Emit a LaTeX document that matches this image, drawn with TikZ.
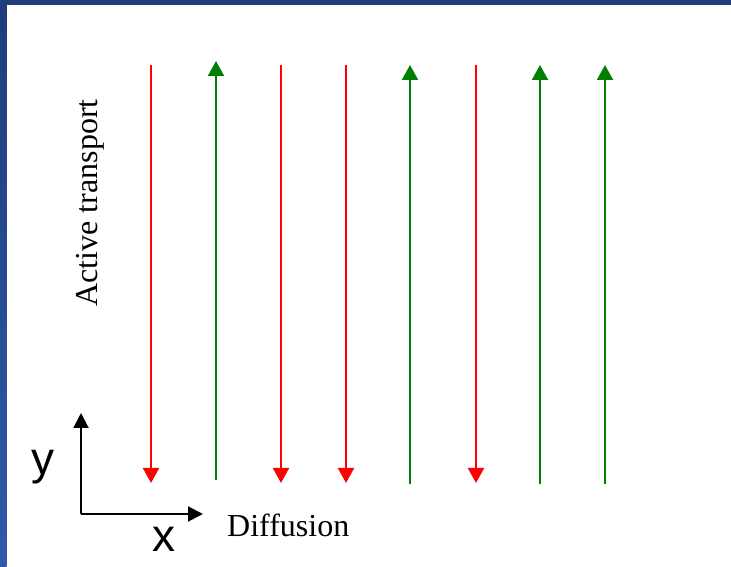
\documentclass[tikz,border=0pt]{standalone}
\usepackage{fontspec}
\setmainfont{Liberation Serif}
\newfontfamily\arialfont{Liberation Sans}
\usetikzlibrary{arrows.meta}
\definecolor{frameblue}{HTML}{1F3D7A}
\definecolor{framelight}{HTML}{2E5AAA}
\definecolor{flowred}{HTML}{FF0000}
\definecolor{flowgreen}{HTML}{008000}
\tikzset{
  flow/.style={line width=2pt,-{Triangle[width=16pt,length=15pt]}},
  redflow/.style={flow,draw=flowred,fill=flowred},
  greenflow/.style={flow,draw=flowgreen,fill=flowgreen},
  axis/.style={line width=2pt,-{Triangle[width=15pt,length=15pt]}},
  lbl/.style={inner sep=0pt}
}
\begin{document}
\begin{tikzpicture}[x=1pt,y=1pt]
\useasboundingbox (0,0) rectangle (731,567);
\fill[white] (0,0) rectangle (731,567);
\fill[frameblue] (0,562) rectangle (731,567);
\shade[top color=frameblue,bottom color=framelight] (0,0) rectangle (6.5,562);
% red (down) arrows
\foreach \n/\x in {r1/151,r2/281,r3/346,r4/476}{
  \coordinate (\n s) at (\x,502);
  \coordinate (\n e) at (\x,84);
  \draw[redflow] (\n s) -- (\n e);
}
% green (up) arrows
\coordinate (g1s) at (216,87); \coordinate (g1e) at (216,506);
\draw[greenflow] (g1s) -- (g1e);
\foreach \n/\x in {g2/410,g3/540,g4/605}{
  \coordinate (\n s) at (\x,83);
  \coordinate (\n e) at (\x,502);
  \draw[greenflow] (\n s) -- (\n e);
}
% axes
\coordinate (o) at (81,53);
\coordinate (yt) at (81,154);
\coordinate (xt) at (203,53);
\draw[axis] (o) -- (yt);
\draw[axis] (o) -- (xt);
\node[lbl,font=\arialfont\fontsize{46}{50}\selectfont] (ylab) at (43,100) {y};
\node[lbl,font=\arialfont\fontsize{46}{50}\selectfont] (xlab) at (164,28) {x};
\node[lbl,anchor=base west,font=\fontsize{32}{35}\selectfont] (diff) at (227,30) {Diffusion};
\node[lbl,rotate=90,font=\fontsize{32}{35}\selectfont] (act) at (90,364) {Active transport};
\end{tikzpicture}
\end{document}
